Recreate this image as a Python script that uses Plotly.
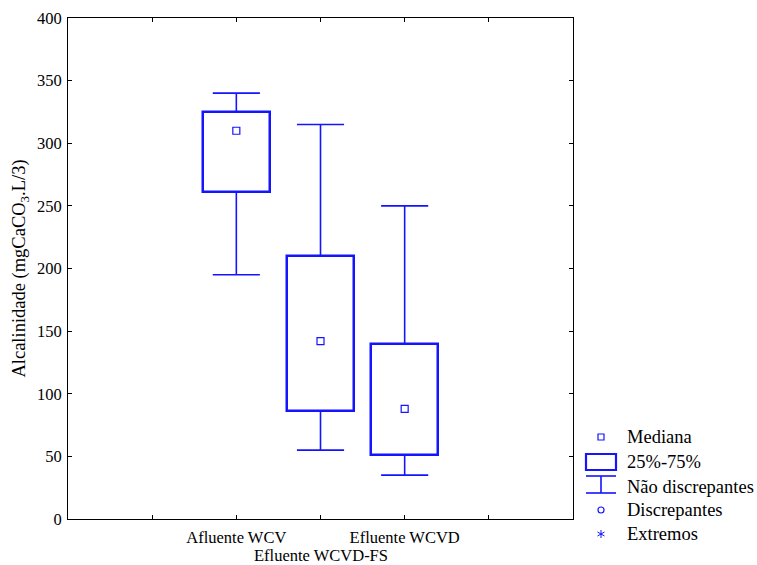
import plotly.graph_objects as go

# Summary statistics per sample (alkalinity, mgCaCO3/L)
categories = ["Afluente WCV", "Efluente WCVD-FS", "Efluente WCVD"]
medians = [310, 142, 88]
q1 = [261, 86, 51]
q3 = [325, 210, 140]
whisker_low = [195, 55, 35]
whisker_high = [340, 315, 250]

y_ticks = [0, 50, 100, 150, 200, 250, 300, 350, 400]

legend_labels = ["Mediana", "25%-75%", "Não discrepantes", "Discrepantes", "Extremos"]

BLUE = "#1414FF"
FONT = "Liberation Serif, Times New Roman, serif"
BOX_W = 0.79
CAP_W = 0.56

W, H = 757, 565
M = dict(l=68, r=184, t=18, b=46)
PW, PH = W - M["l"] - M["r"], H - M["t"] - M["b"]


def px(xp):
    return (xp - M["l"]) / PW


def py(yp):
    return (H - M["b"] - yp) / PH


pos = [i + 2 for i in range(len(categories))]

fig = go.Figure()

# Whiskers (stems + caps), drawn before the boxes so the boxes cover the stems
wx, wy = [], []
for x, lo, hi, a, b in zip(pos, whisker_low, whisker_high, q1, q3):
    wx += [x, x, None, x, x, None]
    wy += [b, hi, None, lo, a, None]
    wx += [x - CAP_W / 2, x + CAP_W / 2, None, x - CAP_W / 2, x + CAP_W / 2, None]
    wy += [hi, hi, None, lo, lo, None]
fig.add_trace(go.Scatter(x=wx, y=wy, mode="lines",
                         line=dict(color=BLUE, width=1.6),
                         hoverinfo="skip", showlegend=False))

# Interquartile boxes
fig.add_trace(go.Bar(x=pos, y=[b - a for a, b in zip(q1, q3)], base=q1,
                     width=BOX_W,
                     marker=dict(color="rgba(0,0,0,0)",
                                 line=dict(color=BLUE, width=2.5)),
                     showlegend=False))

# Medians
fig.add_trace(go.Scatter(x=pos, y=medians, mode="markers",
                         marker=dict(symbol="square-open", size=7,
                                     color=BLUE, line=dict(width=1.2)),
                         showlegend=False))

# Middle category label sits on a second row, staggered below the others
fig.add_annotation(x=pos[1], y=py(555), xref="x", yref="paper",
                   text=categories[1], showarrow=False, yanchor="middle",
                   font=dict(family=FONT, size=16.5, color="black"))

# Key to the symbols, placed below the right side of the plot
row_y = [437, 462, 487, 510, 534]
icon_x = 601
text_x = 625
for label, yy in zip(legend_labels, row_y):
    fig.add_annotation(x=px(text_x), y=py(yy), xref="paper", yref="paper",
                       text=label, showarrow=False, xanchor="left",
                       yanchor="middle",
                       font=dict(family=FONT, size=18.5, color="black"))

ix, iy = px(icon_x), py(row_y[0])
fig.add_shape(type="rect", xref="paper", yref="paper",
              xsizemode="pixel", ysizemode="pixel", xanchor=ix, yanchor=iy,
              x0=-3, x1=3, y0=-3, y1=3, line=dict(color=BLUE, width=1.2))
# box icon
fig.add_shape(type="rect", xref="paper", yref="paper",
              x0=px(icon_x - 15), x1=px(icon_x + 15),
              y0=py(row_y[1] + 8), y1=py(row_y[1] - 8),
              line=dict(color=BLUE, width=2.2))
# whisker icon
for yy in (row_y[2] - 11, row_y[2] + 6):
    fig.add_shape(type="line", xref="paper", yref="paper",
                  x0=px(icon_x - 15), x1=px(icon_x + 15), y0=py(yy), y1=py(yy),
                  line=dict(color=BLUE, width=1.6))
fig.add_shape(type="line", xref="paper", yref="paper",
              x0=ix, x1=ix, y0=py(row_y[2] - 11), y1=py(row_y[2] + 6),
              line=dict(color=BLUE, width=1.6))
# outlier icon
fig.add_shape(type="circle", xref="paper", yref="paper",
              xsizemode="pixel", ysizemode="pixel", xanchor=ix,
              yanchor=py(row_y[3]), x0=-3, x1=3, y0=-3, y1=3,
              line=dict(color=BLUE, width=1.2))
# extreme icon (asterisk)
for dx, dy in ((0, 4), (3.5, 2), (3.5, -2)):
    fig.add_shape(type="line", xref="paper", yref="paper",
                  xsizemode="pixel", ysizemode="pixel", xanchor=ix,
                  yanchor=py(row_y[4]), x0=-dx, x1=dx, y0=-dy, y1=dy,
                  line=dict(color=BLUE, width=1))

axis_common = dict(showline=True, linecolor="black", linewidth=1,
                   mirror="ticks", ticks="inside", ticklen=4,
                   tickcolor="black", showgrid=False, zeroline=False,
                   automargin=False, tickangle=0,
                   tickfont=dict(family=FONT, size=16.5, color="black"))

fig.update_layout(
    width=W, height=H,
    margin=M,
    plot_bgcolor="white", paper_bgcolor="white",
    showlegend=False,
    bargap=0,
    xaxis=dict(range=[0, 6], tickvals=[pos[0], pos[2]],
               ticktext=[categories[0], categories[2]],
               minor=dict(ticks="inside", ticklen=4, tickcolor="black",
                          tick0=0, dtick=1, showgrid=False),
               ticklabelstandoff=3,
               **axis_common),
    yaxis=dict(range=[0, 400], tickvals=y_ticks,
               ticklabelstandoff=2,
               title=dict(text="Alcalinidade (mgCaCO<sub>3</sub>.L/3)",
                          font=dict(family=FONT, size=18.5, color="black"),
                          standoff=6),
               **axis_common),
)

fig.write_html("out.html")
